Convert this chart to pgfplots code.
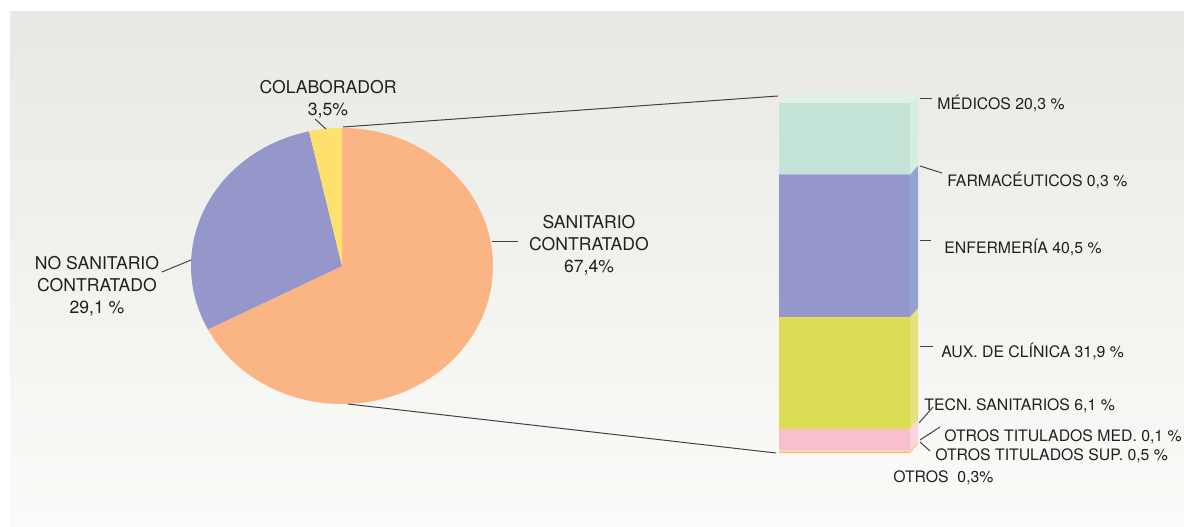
\documentclass[border=0pt]{standalone}
\usepackage{fontspec}
\setmainfont{TeX Gyre Heros}
\usepackage{pgfplots}
\pgfplotsset{compat=1.18}

\definecolor{bgtop}{HTML}{E8E8E4}
\definecolor{bgbot}{HTML}{FBFBF9}
\definecolor{txt}{HTML}{231F20}
\definecolor{pieorange}{HTML}{FBB584}
\definecolor{piepurple}{HTML}{9597CB}
\definecolor{pieyellow}{HTML}{FDE06E}
\definecolor{medF}{HTML}{C4E4D8}
\definecolor{medS}{HTML}{D6EDE2}
\definecolor{medT}{HTML}{E1F1E7}
\definecolor{farF}{HTML}{ABBCD6}
\definecolor{enfF}{HTML}{9597CB}
\definecolor{enfS}{HTML}{90A3D3}
\definecolor{auxF}{HTML}{DCDC55}
\definecolor{auxS}{HTML}{E3E27B}
\definecolor{tecF}{HTML}{F8C0CF}
\definecolor{tecS}{HTML}{FBD6E1}
\definecolor{tmF}{HTML}{F6CFC4}
\definecolor{tsF}{HTML}{F8D9A4}
\definecolor{otF}{HTML}{F9B483}

\begin{document}
\begin{tikzpicture}
\useasboundingbox (0,0) rectangle (592pt,263pt);
\begin{scope}[x=0.5pt,y=0.5pt]
  \fill[white] (0,0) rectangle (1184,526);
  \shade[top color=bgtop, bottom color=bgbot] (10,0) rectangle (1184,514);
\end{scope}

% pie: SANITARIO 67,4 / NO SANITARIO 29,1 / COLABORADOR 3,5
\begin{axis}[at={(171pt,130pt)}, anchor=center, scale only axis,
    width=151pt, height=138pt, xmin=-1, xmax=1, ymin=-1, ymax=1,
    hide axis, clip=false]
\addplot[draw=none, fill=pieorange, domain={90-3.6*67.4}:90, samples=120, variable=\t]
    ({cos(\t)},{sin(\t)}) -- (0,0) -- cycle;
\addplot[draw=none, fill=piepurple, domain={90-3.6*(67.4+29.1)}:{90-3.6*67.4}, samples=60, variable=\t]
    ({cos(\t)},{sin(\t)}) -- (0,0) -- cycle;
\addplot[draw=none, fill=pieyellow, domain={90-3.6*100}:{90-3.6*(67.4+29.1)}, samples=20, variable=\t]
    ({cos(\t)},{sin(\t)}) -- (0,0) -- cycle;
\end{axis}

% bar: front faces
\begin{axis}[at={(389.5pt,36.5pt)}, anchor=south west, scale only axis,
    width=65.5pt, height=175pt, xmin=0, xmax=1, ymin=0, ymax=100,
    hide axis, clip=false, ybar stacked, bar width=1]
\addplot[draw=none, fill=otF]  coordinates {(0.5,0.3)};
\addplot[draw=none, fill=tsF]  coordinates {(0.5,0.5)};
\addplot[draw=none, fill=tmF]  coordinates {(0.5,0.1)};
\addplot[draw=none, fill=tecF] coordinates {(0.5,6.1)};
\addplot[draw=none, fill=auxF] coordinates {(0.5,31.9)};
\addplot[draw=none, fill=enfF] coordinates {(0.5,40.5)};
\addplot[draw=none, fill=farF] coordinates {(0.5,0.3)};
\addplot[draw=none, fill=medF] coordinates {(0.5,20.3)};
\end{axis}

% bar: side and top faces (cumulative limits)
\begin{axis}[at={(389.5pt,36.5pt)}, anchor=south west, scale only axis,
    width=65.5pt, height=175pt, xmin=0, xmax=1, ymin=0, ymax=100,
    hide axis, clip=false]
\addplot[draw=none, fill=otF]  coordinates {(1,0) (1.061,2.57) (1.061,2.87) (1,0.3)} -- cycle;
\addplot[draw=none, fill=tsF]  coordinates {(1,0.3) (1.061,2.87) (1.061,3.37) (1,0.8)} -- cycle;
\addplot[draw=none, fill=tmF]  coordinates {(1,0.8) (1.061,3.37) (1.061,3.47) (1,0.9)} -- cycle;
\addplot[draw=none, fill=tecS] coordinates {(1,0.9) (1.061,3.47) (1.061,9.57) (1,7.0)} -- cycle;
\addplot[draw=none, fill=auxS] coordinates {(1,7.0) (1.061,9.57) (1.061,41.47) (1,38.9)} -- cycle;
\addplot[draw=none, fill=enfS] coordinates {(1,38.9) (1.061,41.47) (1.061,81.97) (1,79.4)} -- cycle;
\addplot[draw=none, fill=farF]  coordinates {(1,79.4) (1.061,81.97) (1.061,82.27) (1,79.7)} -- cycle;
\addplot[draw=none, fill=medS] coordinates {(1,79.7) (1.061,82.27) (1.061,102.57) (1,100)} -- cycle;
\addplot[draw=none, fill=medT] coordinates {(0,100) (0.061,102.57) (1.061,102.57) (1,100)} -- cycle;
\end{axis}

\begin{scope}[x=0.5pt,y=0.5pt, line width=0.5pt, draw=txt!85]
  % connectors
  \draw (343,399) -- (778,430);
  \draw (348,122) -- (776,73);
  % pie leader lines
  \draw (315,407) -- (326,397);
  \draw (162,254) -- (191,266);
  \draw (492,285) -- (518,285);
  % bar leader lines
  \draw (920,427) -- (932,427);
  \draw (920,360) -- (942,353);
  \draw (920,286) -- (931,286);
  \draw (920,180) -- (933,180);
  \draw (919,103) -- (933,119);
  \draw (920,86) -- (940,99);
  \draw (920,84) -- (930,75);
\end{scope}

\begin{scope}[x=0.5pt,y=0.5pt, text=txt, inner sep=0pt]
  \begin{scope}[font=\fontsize{8.8}{11}\selectfont]
  \node[align=center] at (328,427) {COLABORADOR\\3,5\%};
  \node[align=center] at (97,240) {NO SANITARIO\\CONTRATADO\\29,1 \%};
  \node[align=center] at (589,281) {SANITARIO\\CONTRATADO\\67,4\%};
  \end{scope}
  \begin{scope}[font=\fontsize{7.9}{9.5}\selectfont, anchor=west]
  \node at (937,423) {MÉDICOS 20,3 \%};
  \node at (947,346) {FARMACÉUTICOS 0,3 \%};
  \node at (944,279) {ENFERMERÍA 40,5 \%};
  \node at (941,175) {AUX. DE CLÍNICA 31,9 \%};
  \node at (924,120) {TECN. SANITARIOS 6,1 \%};
  \node at (944,89) {OTROS TITULADOS MED. 0,1 \%};
  \node at (935,70) {OTROS TITULADOS SUP. 0,5 \%};
  \node at (893,48) {OTROS\ \ 0,3\%};
  \end{scope}
\end{scope}
\end{tikzpicture}
\end{document}
